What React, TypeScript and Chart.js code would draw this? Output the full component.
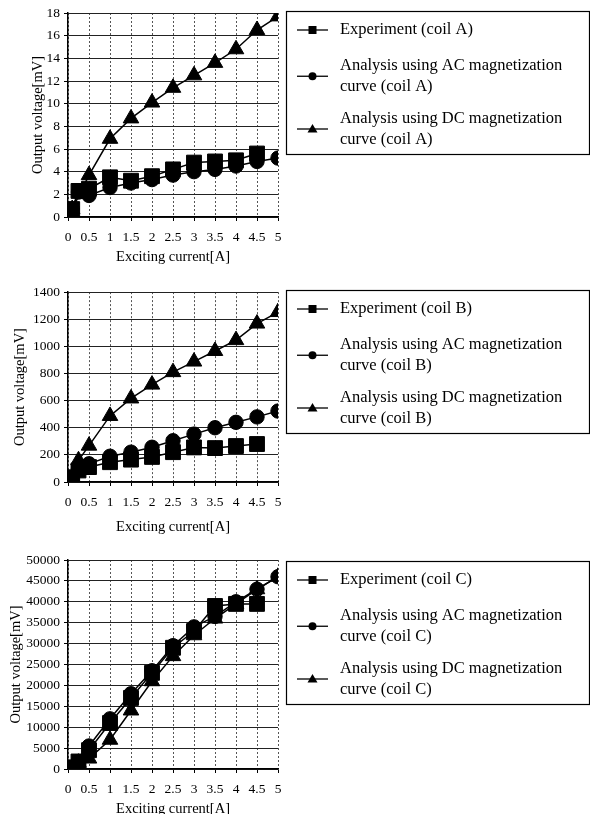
import React, { useEffect, useRef } from 'react';
import { Chart, registerables } from 'chart.js';

Chart.register(...registerables);

const FONT = "'Liberation Serif', 'Times New Roman', serif";

// ---------- Data ----------
const xTickValues = [0, 0.5, 1, 1.5, 2, 2.5, 3, 3.5, 4, 4.5, 5];

// Coil A
const expAX = [0.1, 0.25, 0.5, 1, 1.5, 2, 2.5, 3, 3.5, 4, 4.5];
const expAY = [0.7, 2.3, 2.5, 3.5, 3.2, 3.6, 4.2, 4.8, 4.9, 5.0, 5.6];
const acAX = [0.1, 0.25, 0.5, 1, 1.5, 2, 2.5, 3, 3.5, 4, 4.5, 5];
const acAY = [0.7, 2.2, 1.9, 2.6, 3.0, 3.3, 3.7, 4.0, 4.2, 4.5, 4.9, 5.2];
const dcAX = [0.1, 0.5, 1, 1.5, 2, 2.5, 3, 3.5, 4, 4.5, 5];
const dcAY = [0.7, 3.7, 6.9, 8.7, 10.1, 11.4, 12.5, 13.6, 14.8, 16.5, 17.7];

// Coil B
const expBX = [0.1, 0.25, 0.5, 1, 1.5, 2, 2.5, 3, 3.5, 4, 4.5];
const expBY = [35, 85, 110, 146, 165, 185, 220, 255, 250, 265, 280];
const acBX = [0.1, 0.25, 0.5, 1, 1.5, 2, 2.5, 3, 3.5, 4, 4.5, 5];
const acBY = [35, 100, 134, 190, 220, 256, 304, 353, 400, 440, 480, 523];
const dcBX = [0.1, 0.25, 0.5, 1, 1.5, 2, 2.5, 3, 3.5, 4, 4.5, 5];
const dcBY = [35, 160, 268, 487, 616, 718, 810, 888, 966, 1046, 1168, 1253];

// Coil C
const expCX = [0.1, 0.25, 0.5, 1, 1.5, 2, 2.5, 3, 3.5, 4, 4.5];
const expCY = [400, 1800, 4500, 11000, 17000, 23000, 29000, 33000, 39000, 39500, 39500];
const acCX = [0.1, 0.25, 0.5, 1, 1.5, 2, 2.5, 3, 3.5, 4, 4.5, 5];
const acCY = [400, 1800, 5500, 12000, 18000, 23500, 29500, 34000, 36500, 40000, 43000, 46000];
const dcCX = [0.1, 0.25, 0.5, 1, 1.5, 2, 2.5, 3, 3.5, 4, 4.5, 5];
const dcCY = [400, 1500, 2500, 7000, 14000, 21000, 27000, 32000, 36000, 39500, 43000, 46000];

const labelsA = ['Experiment (coil A)', 'Analysis using AC magnetization\ncurve (coil A)', 'Analysis using DC magnetization\ncurve (coil A)'];
const labelsB = ['Experiment (coil B)', 'Analysis using AC magnetization\ncurve (coil B)', 'Analysis using DC magnetization\ncurve (coil B)'];
const labelsC = ['Experiment (coil C)', 'Analysis using AC magnetization\ncurve (coil C)', 'Analysis using DC magnetization\ncurve (coil C)'];

const yMaxA = 18, yStepA = 2;
const yMaxB = 1400, yStepB = 200;
const yMaxC = 50000, yStepC = 5000;

const xTitle = 'Exciting current[A]';
const yTitle = 'Output voltage[mV]';

// ---------- Helpers ----------
const pts = (xs: number[], ys: number[]) => xs.map((x, i) => ({ x, y: ys[i] }));

const styles = ['rect', 'circle', 'triangle'];
const radii = [10.5, 7.2, 9];

function drawMarker(ctx: CanvasRenderingContext2D, style: string, x: number, y: number) {
  ctx.beginPath();
  if (style === 'rect') {
    ctx.rect(x - 4, y - 4, 8, 8);
  } else if (style === 'circle') {
    ctx.arc(x, y, 4, 0, Math.PI * 2);
  } else {
    ctx.moveTo(x, y - 5);
    ctx.lineTo(x + 5, y + 3.5);
    ctx.lineTo(x - 5, y + 3.5);
    ctx.closePath();
  }
  ctx.fill();
}

const boxLegend = {
  id: 'boxLegend',
  afterDraw(chart: any, _args: any, opts: any) {
    const ctx = chart.ctx as CanvasRenderingContext2D;
    const { left, top, width, height, offsets } = opts;
    ctx.save();
    ctx.fillStyle = '#fff';
    ctx.fillRect(left, top, width, height);
    ctx.strokeStyle = '#000';
    ctx.lineWidth = 1.2;
    ctx.strokeRect(left + 0.5, top + 0.5, width, height);
    ctx.font = `16.5px ${FONT}`;
    ctx.textBaseline = 'middle';
    ctx.textAlign = 'left';
    let li = 0;
    chart.data.datasets.forEach((ds: any, i: number) => {
      const lines: string[] = String(ds.label).split('\n');
      const ys = lines.map(() => top + offsets[li++]);
      const symY = (ys[0] + ys[ys.length - 1]) / 2;
      ctx.strokeStyle = '#000';
      ctx.fillStyle = '#000';
      ctx.lineWidth = 1.3;
      ctx.beginPath();
      ctx.moveTo(left + 11, symY);
      ctx.lineTo(left + 42, symY);
      ctx.stroke();
      drawMarker(ctx, styles[i], left + 26.5, symY);
      lines.forEach((t, k) => ctx.fillText(t, left + 54, ys[k]));
    });
    ctx.restore();
  },
};

interface Spec {
  top: number;
  height: number;
  padL: number;
  padT: number;
  plotBottom: number;
  yMax: number;
  yStep: number;
  labels: string[];
  series: { x: number[]; y: number[] }[];
  legendTop: number;
}

const specs: Spec[] = [
  {
    top: 0, height: 270, padL: 25, padT: 13, plotBottom: 217,
    yMax: yMaxA, yStep: yStepA, labels: labelsA,
    series: [{ x: expAX, y: expAY }, { x: acAX, y: acAY }, { x: dcAX, y: dcAY }],
    legendTop: 11,
  },
  {
    top: 280, height: 260, padL: 7, padT: 10, plotBottom: 202,
    yMax: yMaxB, yStep: yStepB, labels: labelsB,
    series: [{ x: expBX, y: expBY }, { x: acBX, y: acBY }, { x: dcBX, y: dcBY }],
    legendTop: 10,
  },
  {
    top: 540, height: 282, padL: 3, padT: 20, plotBottom: 229,
    yMax: yMaxC, yStep: yStepC, labels: labelsC,
    series: [{ x: expCX, y: expCY }, { x: acCX, y: acCY }, { x: dcCX, y: dcCY }],
    legendTop: 21,
  },
];

const W = 590;
const PLOT_LEFT = 68;
const PLOT_RIGHT = 278;

function CoilChart({ spec }: { spec: Spec }) {
  const ref = useRef<HTMLCanvasElement>(null);
  useEffect(() => {
    if (!ref.current) return;
    const chart = new Chart(ref.current, {
      type: 'line',
      data: {
        datasets: spec.series.map((s, i) => ({
          label: spec.labels[i],
          data: pts(s.x, s.y),
          borderColor: '#000',
          backgroundColor: '#000',
          borderWidth: 1.5,
          pointStyle: styles[i] as any,
          pointRadius: radii[i],
          pointBackgroundColor: '#000',
          pointBorderColor: '#000',
          pointBorderWidth: 1,
          tension: 0,
          fill: false,
        })),
      },
      options: {
        responsive: false,
        animation: false,
        layout: { padding: { left: spec.padL, top: spec.padT, right: W - PLOT_RIGHT, bottom: 0 } },
        plugins: {
          legend: { display: false },
          tooltip: { enabled: false },
          boxLegend: { left: 286, top: spec.legendTop, width: 303, height: 143, offsets: [19, 54.5, 76, 107.5, 128.5] },
        } as any,
        scales: {
          x: {
            type: 'linear',
            min: 0,
            max: 5,
            afterBuildTicks: (s: any) => { s.ticks = xTickValues.map((v) => ({ value: v })); },
            ticks: { color: '#000', font: { family: FONT, size: 13.5 }, padding: 8, maxRotation: 0, autoSkip: false, callback: (v: any) => String(Number(v)) },
            grid: { color: '#555', lineWidth: 1, tickLength: 4, tickColor: '#000' },
            border: { color: '#000', width: 1.5, dash: [2, 2] },
            title: { display: true, text: xTitle, color: '#000', font: { family: FONT, size: 14.5 }, padding: { top: 0, bottom: 4 } },
            afterFit: (s: any) => { s.height = spec.height - spec.plotBottom; },
          },
          y: {
            type: 'linear',
            min: 0,
            max: spec.yMax,
            ticks: { stepSize: spec.yStep, color: '#000', font: { family: FONT, size: 13.5 }, padding: 4, callback: (v: any) => String(v) },
            grid: { color: '#222', lineWidth: 1, tickLength: 4, tickColor: '#000' },
            border: { color: '#000', width: 1.5 },
            title: { display: true, text: yTitle, color: '#000', font: { family: FONT, size: 14.5 }, padding: { top: 4, bottom: 2 } },
            afterFit: (s: any) => { s.width = PLOT_LEFT - spec.padL; },
          },
        } as any,
      },
      plugins: [boxLegend as any],
    });
    return () => chart.destroy();
  }, [spec]);
  return (
    <canvas
      ref={ref}
      width={W}
      height={spec.height}
      style={{ position: 'absolute', left: 0, top: spec.top, width: W, height: spec.height }}
    />
  );
}

export default function App() {
  return (
    <div style={{ position: 'fixed', left: 0, top: 0, width: W, height: 814, overflow: 'hidden', background: '#fff' }}>
      {specs.map((s, i) => (
        <CoilChart key={i} spec={s} />
      ))}
    </div>
  );
}
